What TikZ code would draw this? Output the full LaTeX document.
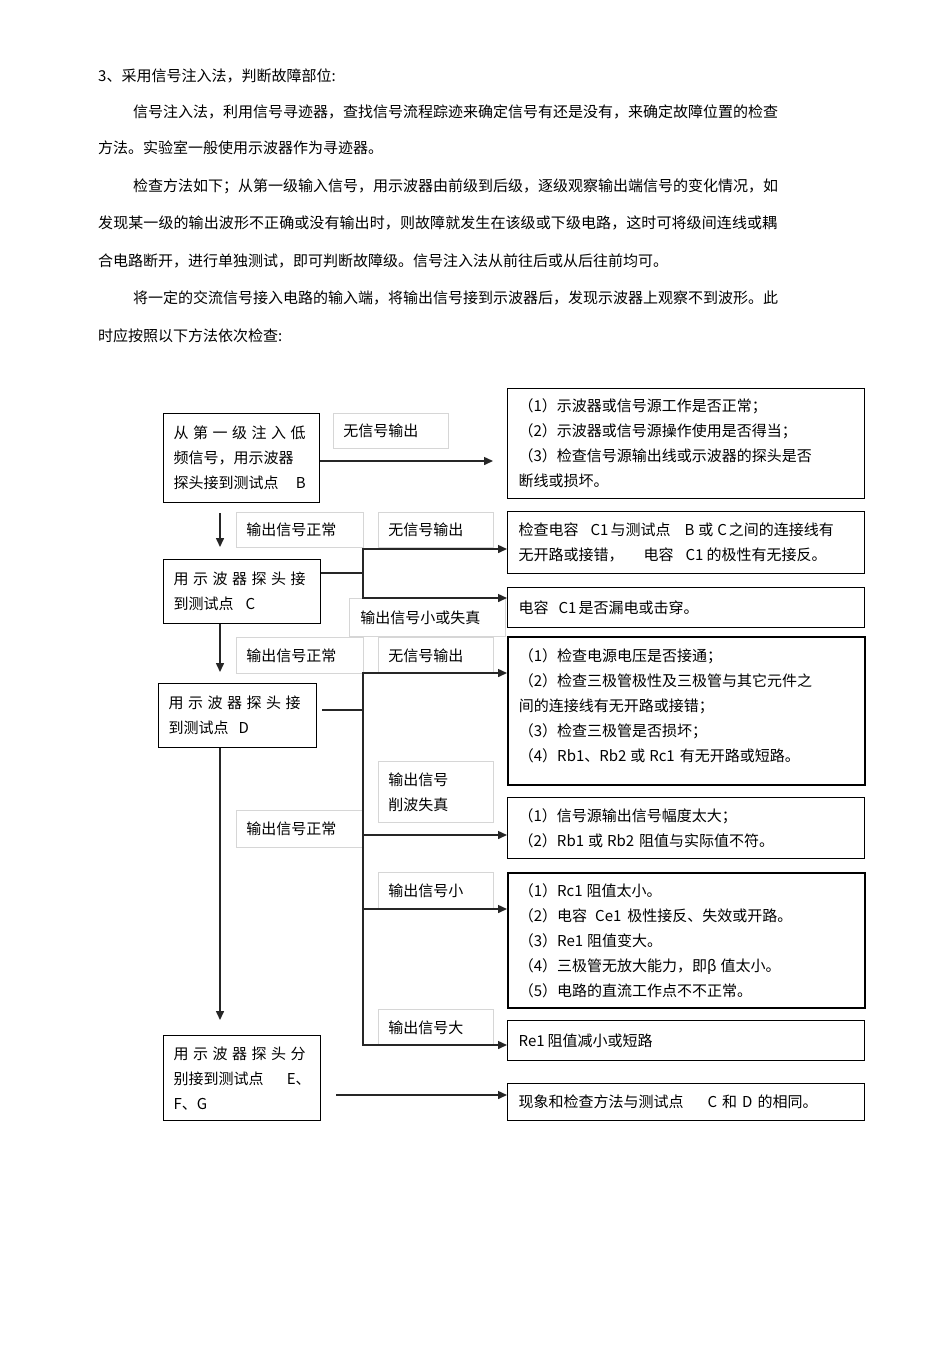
\documentclass[tikz,border=0pt]{standalone}
\usepackage{fontspec}
\setmainfont{Noto Sans CJK SC}
\usetikzlibrary{arrows.meta}

% spread a line of CJK characters over a given width
\makeatletter
\newcommand\fullline[2]{\leavevmode\hbox to #1{\@tempswafalse
  \@tfor\cjk@ch:=#2\do{\if@tempswa\hskip 0pt plus 1fil\relax\fi\@tempswatrue\cjk@ch}}}
\makeatother
\newcommand\chartfont{\fontsize{15pt}{25pt}\selectfont}

\tikzset{
  bodyline/.style={anchor=west, inner sep=0pt, font=\chartfont},
  stepbox/.style={draw=black, line width=1.3pt, anchor=north west, align=left,
    inner xsep=10pt, inner ysep=0pt, font=\chartfont},
  checkbox/.style={draw=black, line width=1.3pt, anchor=north west, align=left,
    inner xsep=11pt, inner ysep=0pt, minimum width=357pt, text width=335pt, font=\chartfont},
  tagbox/.style={draw=black!16, line width=0.8pt, anchor=north west, align=left,
    inner xsep=10pt, inner ysep=0pt, font=\chartfont},
  link/.style={draw=black!85, line width=1.5pt, line cap=rect},
  flow/.style={draw=black!85, line width=1.5pt, -{Triangle[length=9pt,width=8pt]}},
}

\begin{document}
\begin{tikzpicture}[x=1pt,y=-1pt]
  % Page
  \fill[white] (0,0) rectangle (950,1345);
  \useasboundingbox (0,0) rectangle (950,1345);

  % Text above the chart
  \node[bodyline] (p1) at (98,76) {3、采用信号注入法，判断故障部位:};
  \node[bodyline] (p2) at (133,112) {\fullline{644pt}{信号注入法，利用信号寻迹器，查找信号流程踪迹来确定信号有还是没有，来确定故障位置的检查}};
  \node[bodyline] (p3) at (98,148) {方法。实验室一般使用示波器作为寻迹器。};
  \node[bodyline] (p4) at (133,186) {\fullline{644pt}{检查方法如下；从第一级输入信号，用示波器由前级到后级，逐级观察输出端信号的变化情况，如}};
  \node[bodyline] (p5) at (98,223) {\fullline{679pt}{发现某一级的输出波形不正确或没有输出时，则故障就发生在该级或下级电路，这时可将级间连线或耦}};
  \node[bodyline] (p6) at (98,261) {合电路断开，进行单独测试，即可判断故障级。信号注入法从前往后或从后往前均可。};
  \node[bodyline] (p7) at (133,298) {\fullline{644pt}{将一定的交流信号接入电路的输入端，将输出信号接到示波器后，发现示波器上观察不到波形。此}};
  \node[bodyline] (p8) at (98,336) {时应按照以下方法依次检查:};

  % Condition labels
  \node[tagbox, minimum width=115pt, minimum height=35pt, text width=95pt] (t1) at (333,413) {无信号输出};
  \node[tagbox, minimum width=127pt, minimum height=35pt, text width=107pt] (t2) at (236,512) {输出信号正常};
  \node[tagbox, minimum width=115pt, minimum height=35pt, text width=95pt] (t3) at (378,512) {无信号输出};
  \node[tagbox, minimum width=156pt, minimum height=38pt, text width=134pt, inner xsep=11pt] (t4) at (349,598) {输出信号小或失真};
  \node[tagbox, minimum width=127pt, minimum height=36pt, text width=107pt] (t5) at (236,637) {输出信号正常};
  \node[tagbox, minimum width=115pt, minimum height=36pt, text width=95pt] (t6) at (378,637) {无信号输出};
  \node[tagbox, minimum width=115pt, minimum height=61pt, text width=95pt] (t7) at (378,761) {输出信号\\削波失真};
  \node[tagbox, minimum width=127pt, minimum height=37pt, text width=107pt] (t8) at (236,810) {输出信号正常};
  \node[tagbox, minimum width=115pt, minimum height=36pt, text width=95pt] (t9) at (378,872) {输出信号小};
  \node[tagbox, minimum width=115pt, minimum height=36pt, text width=95pt] (t10) at (378,1009) {输出信号大};

  % Test steps
  \node[stepbox, minimum width=156pt, minimum height=89pt, text width=136pt] (B) at (163,413)
    {\fullline{132pt}{从第一级注入低}\\频信号，用示波器\\\fullline{132pt}{探头接到测试点\hfill B}};
  \node[stepbox, minimum width=157pt, minimum height=64pt, text width=137pt] (C) at (163,559)
    {\fullline{132pt}{用示波器探头接}\\到测试点\hspace{12pt}C};
  \node[stepbox, minimum width=158pt, minimum height=64pt, text width=138pt] (D) at (158,683)
    {\fullline{132pt}{用示波器探头接}\\到测试点\hspace{10pt}D};
  \node[stepbox, minimum width=157pt, minimum height=85pt, text width=137pt] (E) at (163,1035)
    {\fullline{132pt}{用示波器探头分}\\\fullline{137pt}{别接到测试点\hfill E、}\\F、G};

  % Checks
  \node[checkbox, minimum height=110pt] (R1) at (507,388)
    {（1）示波器或信号源工作是否正常；\\（2）示波器或信号源操作使用是否得当；\\（3）检查信号源输出线或示波器的探头是否\\断线或损坏。};
  \node[checkbox, minimum height=62pt] (R2) at (507,511)
    {检查电容\hspace{12pt}C1\hspace{2pt}与测试点\hspace{14pt}B\hspace{4pt}或\hspace{4pt}C\hspace{2pt}之间的连接线有\\无开路或接错，\hspace{20pt}电容\hspace{12pt}C1\hspace{3pt}的极性有无接反。};
  \node[checkbox, minimum height=40pt] (R3) at (507,587)
    {电容\hspace{10pt}C1\hspace{2pt}是否漏电或击穿。};
  \node[checkbox, line width=1.8pt, minimum height=148pt] (R4) at (507,636)
    {（1）检查电源电压是否接通；\\（2）检查三极管极性及三极管与其它元件之\\间的连接线有无开路或接错；\\（3）检查三极管是否损坏；\\（4）Rb1、Rb2\hspace{4pt}或\hspace{4pt}Rc1\hspace{5pt}有无开路或短路。\\[-13pt]\mbox{}};
  \node[checkbox, minimum height=61pt] (R5) at (507,797)
    {（1）信号源输出信号幅度太大；\\（2）Rb1\hspace{4pt}或\hspace{4pt}Rb2\hspace{5pt}阻值与实际值不符。};
  \node[checkbox, line width=1.8pt, minimum height=135pt] (R6) at (507,872)
    {（1）Rc1\hspace{4pt}阻值太小。\\（2）电容\hspace{8pt}Ce1\hspace{6pt}极性接反、失效或开路。\\（3）Re1\hspace{4pt}阻值变大。\\（4）三极管无放大能力，即β\hspace{4pt}值太小。\\（5）电路的直流工作点不不正常。};
  \node[checkbox, minimum height=40pt] (R7) at (507,1020)
    {Re1\hspace{3pt}阻值减小或短路};
  \node[checkbox, minimum height=37pt] (R8) at (507,1083)
    {现象和检查方法与测试点\hspace{24pt}C\hspace{5pt}和\hspace{5pt}D\hspace{5pt}的相同。};

  % Down arrows
  \coordinate (spine) at (220,0);
  \draw[flow, shorten <=10pt, shorten >=12pt] (B.south -| spine) -- (C.north -| spine);
  \draw[flow, shorten >=11pt] (C.south -| spine) -- (D.north -| spine);
  \draw[flow, shorten >=15pt] (D.south -| spine) -- (E.north -| spine);

  % From B
  \coordinate (bj) at (0,461);
  \draw[flow, shorten >=14pt] (B.east |- bj) -- (R1.west |- bj);

  % From C
  \coordinate (cj) at (363,573);
  \coordinate (c2) at (363,549);
  \coordinate (c3) at (363,598);
  \draw[link] (C.east |- cj) -- (cj);
  \draw[link] (c2) -- (c3);
  \draw[flow] (c2) -- (R2.west |- c2);
  \draw[flow] (c3) -- (R3.west |- c3);

  % From D
  \coordinate (dj) at (363,710);
  \coordinate (d4) at (363,673);
  \coordinate (d5) at (363,835);
  \coordinate (d6) at (363,909);
  \coordinate (d7) at (363,1045);
  \draw[link, shorten <=5pt] (D.east |- dj) -- (dj);
  \draw[link] (d4) -- (d7);
  \draw[flow] (d4) -- (R4.west |- d4);
  \draw[flow] (d5) -- (R5.west |- d5);
  \draw[flow] (d6) -- (R6.west |- d6);
  \draw[flow] (d7) -- (R7.west |- d7);

  % From E
  \coordinate (ej) at (0,1095);
  \draw[flow, shorten <=15pt] (E.east |- ej) -- (R8.west |- ej);
\end{tikzpicture}
\end{document}
